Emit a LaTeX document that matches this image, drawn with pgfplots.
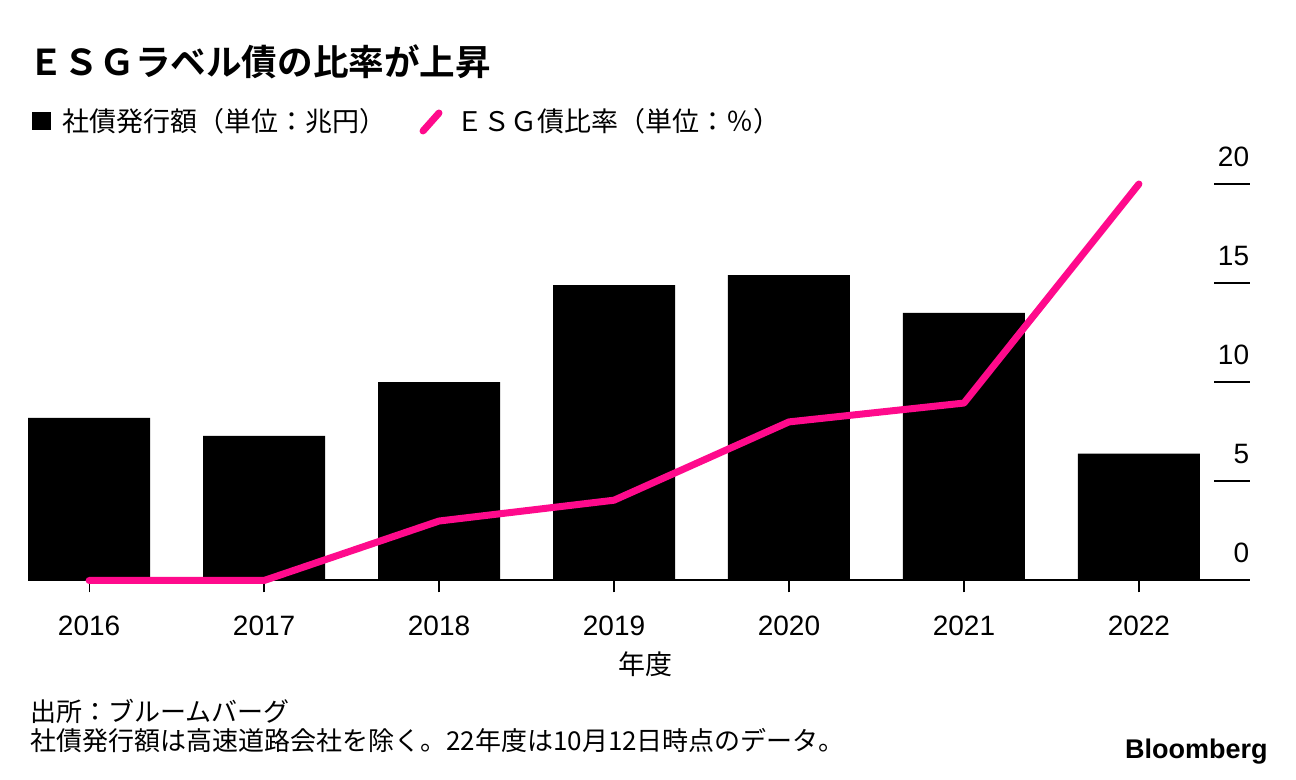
\documentclass[border=0pt]{standalone}
\usepackage{fontspec}
\setmainfont{Liberation Sans}
\newfontfamily\jp{Noto Sans CJK JP}
\newfontfamily\jpb{Noto Sans CJK JP Bold}
\usepackage{pgfplots}
\pgfplotsset{compat=1.18}
\definecolor{esgpink}{RGB}{255,10,140}

\begin{document}
\begin{tikzpicture}
\useasboundingbox (0,0) rectangle (648bp,390bp);

% bars, line and x axis
\begin{axis}[
  at={(14bp,99.75bp)}, anchor=south west,
  scale only axis, width=610.75bp, height=198.25bp,
  xmin=-0.3494, xmax=6.632, ymin=0, ymax=20,
  axis x line*=bottom, axis y line=none,
  x axis line style={line width=1bp, -},
  xtick={0,1,2,3,4,5,6},
  xticklabels={2016,2017,2018,2019,2020,2021,2022},
  tick align=outside, major tick length=6bp,
  xtick style={black, line width=0.6bp},
  xticklabel style={anchor=north, inner sep=0pt, yshift=-11.5bp,
    font=\fontsize{14bp}{16bp}\selectfont},
  clip=false,
]
\addplot[ybar, bar width=61bp, bar shift=0pt, fill=black, draw=none]
  coordinates {(0,8.2) (1,7.3) (2,10.0) (3,14.9) (4,15.4) (5,13.5) (6,6.4)};
\addplot[sharp plot, esgpink, line width=3.5bp, line cap=round, line join=round]
  coordinates {(0,0) (1,0) (2,3.0) (3,4.05) (4,8.0) (5,8.95) (6,20.0)};
\end{axis}

% right-hand y ticks
\begin{axis}[
  at={(14bp,99.75bp)}, anchor=south west,
  scale only axis, width=610.75bp, height=198.25bp,
  xmin=-0.3494, xmax=6.632, ymin=0, ymax=20,
  axis x line=none, axis y line*=right,
  y axis line style={draw=none},
  ytick={0,5,10,15,20},
  tick align=inside, major tick length=17.75bp,
  ytick style={black, line width=1bp},
  yticklabel style={anchor=south east, inner sep=0pt, yshift=8.5bp,
    font=\fontsize{14bp}{16bp}\selectfont,
    /pgf/number format/assume math mode=true},
]
\addplot[draw=none] coordinates {(0,0)};
\end{axis}

% title
\node[anchor=west, inner sep=0pt] at (14bp,359bp)
  {\jpb\fontsize{17.8bp}{20bp}\selectfont ＥＳＧラベル債の比率が上昇};

% legend
\fill (16bp,325bp) rectangle (25.5bp,334bp);
\node[anchor=west, inner sep=0pt] at (31bp,329.5bp)
  {\jp\fontsize{13.5bp}{16bp}\selectfont 社債発行額（単位：兆円）};
\draw[esgpink, line width=3.5bp, line cap=round] (211.5bp,324.5bp) -- (219.5bp,333.5bp);
\node[anchor=west, inner sep=0pt] at (228bp,329.5bp)
  {\jp\fontsize{13.5bp}{16bp}\selectfont ＥＳＧ債比率（単位：％）};

% x label
\node[inner sep=0pt] at (322.5bp,58bp)
  {\jp\fontsize{13.5bp}{16bp}\selectfont 年度};

% notes
\node[anchor=west, inner sep=0pt] at (15bp,34.5bp)
  {\jp\fontsize{13bp}{16bp}\selectfont 出所：ブルームバーグ};
\node[anchor=west, inner sep=0pt] at (15bp,19.5bp)
  {\jp\fontsize{13bp}{16bp}\selectfont 社債発行額は高速道路会社を除く。22年度は10月12日時点のデータ。};
\node[anchor=east, inner sep=0pt] at (634bp,14bp)
  {\bfseries\fontsize{13.5bp}{16bp}\selectfont Bloomberg};
\end{tikzpicture}
\end{document}
